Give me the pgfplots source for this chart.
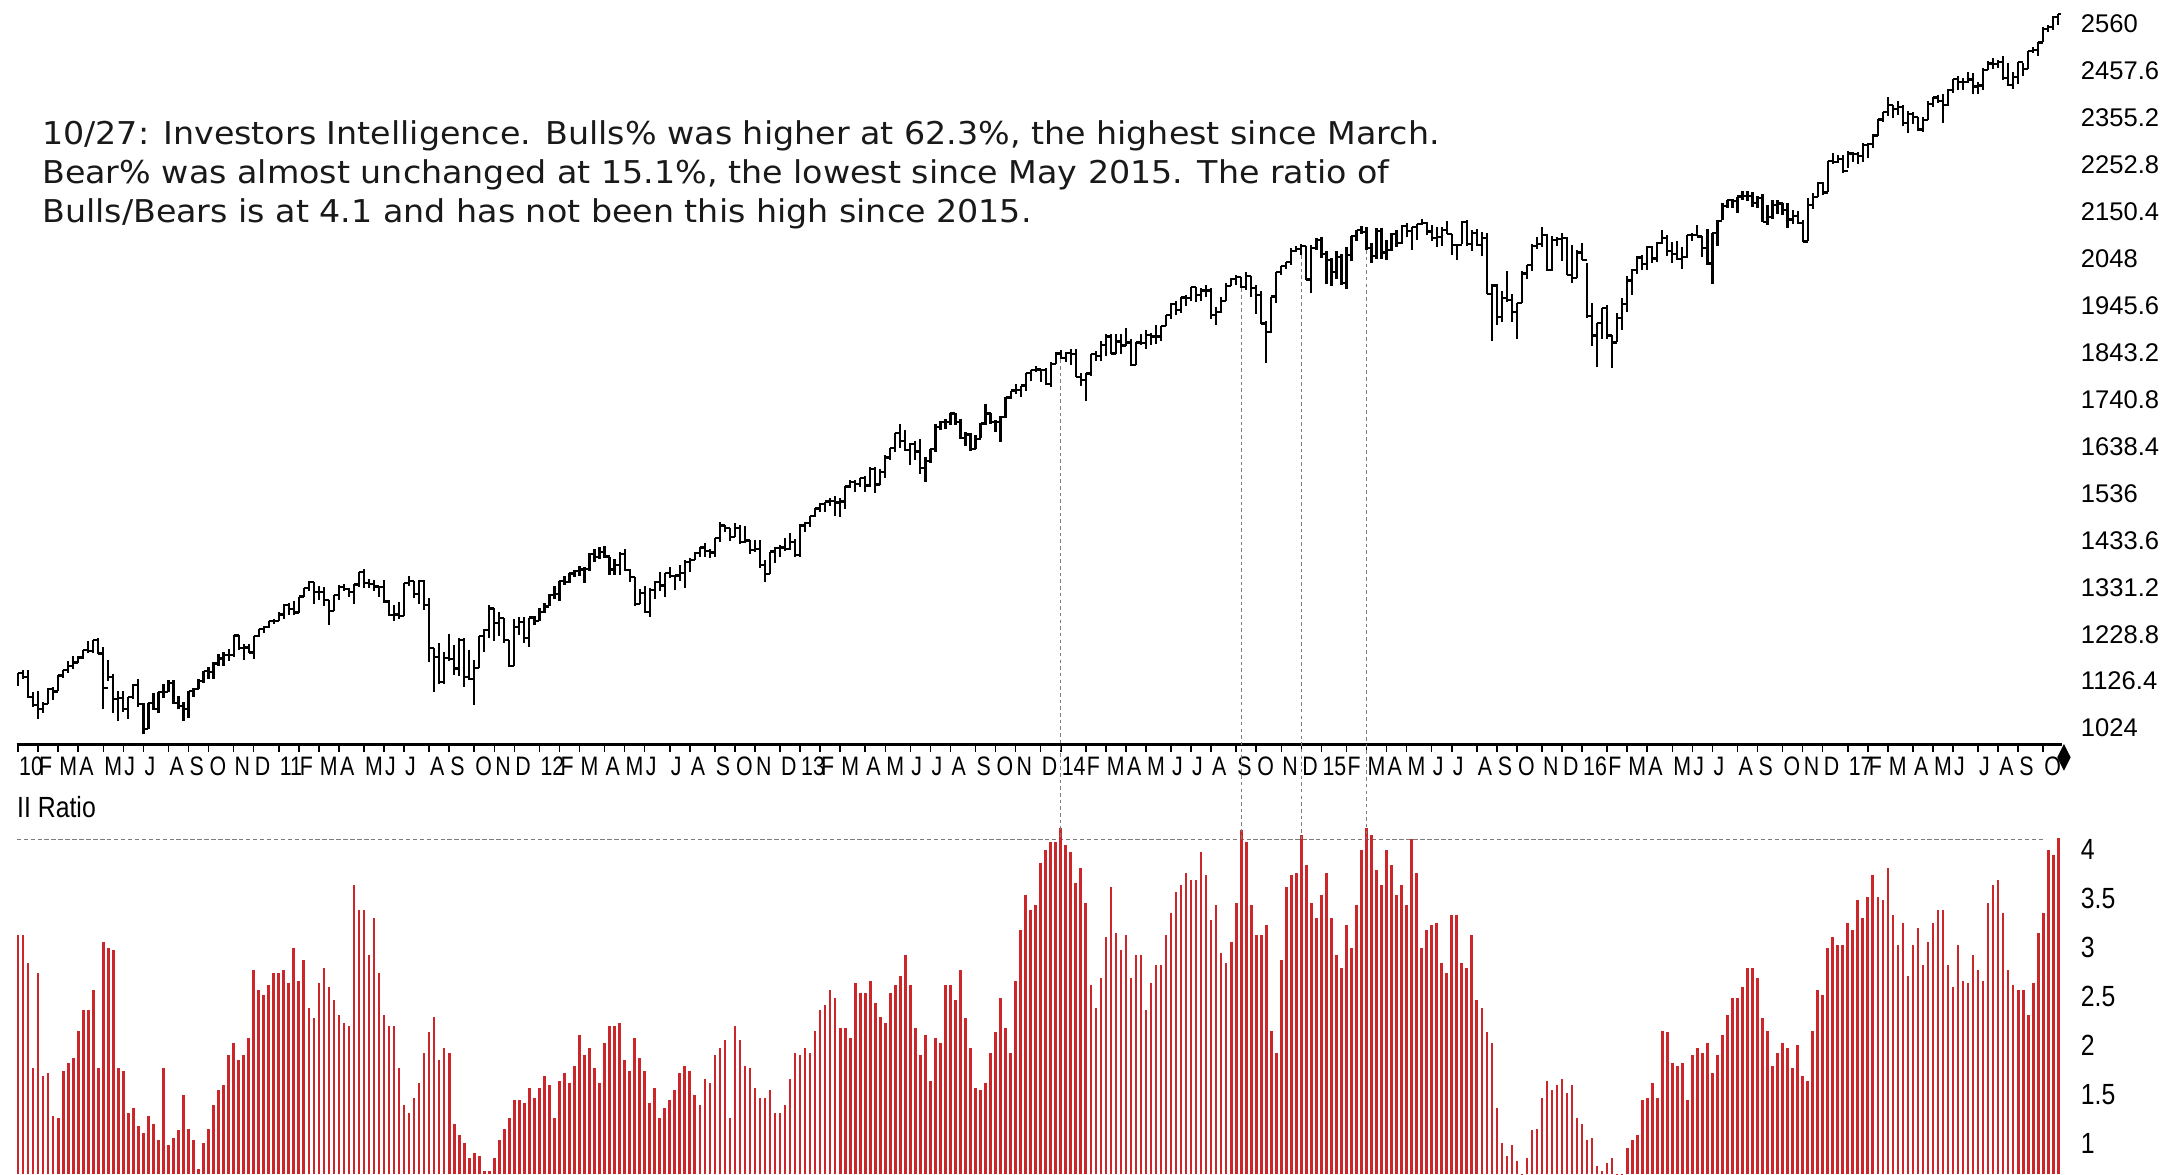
\documentclass[border=0pt]{standalone}
\usepackage{pgfplots}
\pgfplotsset{compat=1.18}
\usepackage{pgfplotstable}
\usepackage{fontspec}
\newfontfamily\annfont[FakeStretch=1.06]{DejaVu Sans}
\newfontfamily\tickfont{Liberation Sans}
\newfontfamily\narrowA[FakeStretch=0.85]{Liberation Sans}
\newfontfamily\narrowB[FakeStretch=0.8]{Liberation Sans}
\definecolor{iired}{RGB}{205,38,42}
\definecolor{dashgray}{RGB}{125,125,125}
\definecolor{anntext}{RGB}{25,25,25}

\pgfdeclareplotmark{cltick}{\pgfpathmoveto{\pgfpointorigin}\pgfpathlineto{\pgfpoint{0.95pt}{0pt}}\pgfusepathqstroke}
\pgfdeclareplotmark{optick}{\pgfpathmoveto{\pgfpointorigin}\pgfpathlineto{\pgfpoint{-0.95pt}{0pt}}\pgfusepathqstroke}

% weekly S&P 500: high, low, close; II bulls/bears ratio
\pgfplotstableread{
h l c r
1145 1116 1145 3.12
1150 1131 1136 3.12
1150 1090 1092 2.84
1103 1071 1074 1.77
1104 1045 1066 2.74
1080 1056 1076 1.69
1112 1076 1109 1.72
1113 1086 1104 1.28
1139 1105 1139 1.26
1150 1133 1150 1.74
1170 1144 1160 1.82
1181 1153 1167 1.87
1181 1165 1178 2.15
1195 1175 1194 2.36
1213 1188 1192 2.36
1217 1188 1217 2.56
1220 1186 1187 1.77
1200 1066 1111 3.05
1173 1126 1136 2.99
1141 1056 1088 2.97
1105 1040 1089 1.77
1105 1060 1065 1.74
1092 1043 1092 1.31
1120 1087 1118 1.36
1131 1071 1077 1.18
1079 1011 1023 1.10
1078 1023 1078 1.28
1100 1063 1065 1.20
1103 1056 1103 1.03
1120 1089 1102 1.77
1129 1102 1122 0.98
1130 1076 1079 1.05
1095 1066 1072 1.13
1081 1040 1065 1.49
1105 1047 1105 1.15
1112 1091 1110 1.03
1131 1110 1126 0.74
1149 1122 1149 1.00
1158 1131 1146 1.15
1168 1131 1165 1.39
1185 1159 1176 1.54
1189 1160 1183 1.59
1196 1171 1183 1.90
1227 1179 1226 2.02
1227 1194 1199 1.85
1207 1173 1200 1.90
1207 1187 1189 2.07
1225 1174 1225 2.77
1240 1223 1240 2.56
1247 1232 1244 2.51
1257 1242 1257 2.61
1262 1250 1258 2.74
1278 1257 1272 2.74
1294 1262 1293 2.77
1297 1271 1283 2.64
1302 1270 1276 2.99
1311 1276 1311 2.66
1330 1311 1329 2.87
1344 1322 1343 2.38
1343 1294 1320 2.28
1333 1304 1321 2.64
1331 1291 1304 2.79
1304 1249 1279 2.59
1315 1279 1314 2.46
1337 1304 1332 2.31
1339 1322 1328 2.23
1329 1309 1320 2.20
1338 1295 1337 3.64
1364 1331 1364 3.38
1371 1330 1340 3.38
1350 1330 1338 2.92
1346 1324 1333 3.30
1334 1311 1331 2.74
1346 1298 1300 2.31
1304 1268 1271 2.20
1293 1258 1272 2.20
1299 1262 1268 1.77
1341 1268 1340 1.39
1356 1333 1344 1.31
1344 1307 1316 1.46
1347 1295 1345 1.61
1346 1282 1292 1.92
1308 1168 1199 2.13
1199 1102 1179 2.29
1209 1120 1124 1.85
1190 1121 1177 1.97
1230 1170 1174 1.92
1205 1140 1154 1.20
1220 1137 1216 1.08
1220 1114 1136 1.00
1195 1130 1131 0.85
1172 1075 1155 0.90
1225 1155 1225 0.87
1240 1190 1238 0.72
1293 1221 1285 0.72
1285 1215 1253 0.85
1277 1226 1264 1.03
1265 1209 1216 1.15
1216 1158 1159 1.26
1261 1159 1244 1.44
1267 1228 1255 1.44
1266 1209 1220 1.41
1265 1202 1265 1.56
1269 1248 1258 1.46
1285 1258 1278 1.56
1296 1275 1289 1.69
1316 1290 1315 1.59
1333 1306 1316 1.26
1345 1301 1345 1.64
1355 1336 1343 1.72
1362 1340 1361 1.61
1368 1354 1366 1.79
1378 1355 1370 2.10
1375 1340 1371 1.90
1406 1366 1404 1.97
1414 1386 1397 1.77
1420 1392 1408 1.61
1422 1395 1398 2.02
1398 1357 1370 2.20
1393 1358 1379 2.20
1407 1358 1403 2.23
1415 1368 1369 1.85
1370 1343 1353 1.74
1354 1291 1295 2.07
1328 1294 1318 1.87
1335 1274 1278 1.74
1329 1266 1326 1.41
1344 1306 1343 1.56
1364 1324 1335 1.26
1362 1310 1362 1.36
1375 1352 1355 1.44
1357 1325 1357 1.54
1380 1345 1363 1.72
1390 1329 1386 1.79
1395 1365 1391 1.74
1407 1391 1406 1.49
1419 1397 1418 1.39
1427 1398 1411 1.66
1415 1396 1407 1.61
1438 1397 1438 1.90
1474 1429 1466 1.97
1467 1451 1460 2.05
1460 1431 1441 1.26
1471 1440 1461 2.20
1466 1425 1429 2.05
1464 1428 1433 1.79
1434 1403 1412 1.77
1434 1407 1414 1.56
1434 1374 1380 1.46
1391 1343 1360 1.46
1409 1360 1409 1.54
1419 1385 1416 1.31
1423 1398 1418 1.31
1439 1410 1414 1.39
1449 1413 1430 1.66
1436 1398 1402 1.92
1468 1398 1466 1.90
1473 1451 1472 1.97
1486 1463 1486 1.92
1503 1485 1503 2.15
1514 1496 1513 2.36
1518 1495 1518 2.41
1525 1509 1520 2.56
1530 1486 1516 2.48
1525 1485 1518 2.18
1552 1501 1551 2.18
1564 1547 1561 2.07
1564 1539 1557 2.64
1570 1550 1569 2.53
1574 1539 1553 2.53
1594 1550 1589 2.66
1593 1537 1555 2.43
1590 1554 1582 2.29
1619 1570 1614 2.23
1635 1609 1634 2.53
1668 1625 1667 2.61
1688 1635 1650 2.71
1674 1630 1631 2.92
1646 1598 1643 2.61
1649 1608 1627 2.18
1654 1577 1592 1.90
1615 1560 1606 2.10
1632 1601 1632 1.64
1687 1626 1680 2.07
1693 1674 1692 2.02
1698 1676 1692 2.61
1710 1684 1710 2.61
1710 1684 1691 2.46
1697 1654 1656 2.77
1669 1640 1664 2.28
1668 1628 1633 1.97
1663 1633 1655 1.56
1689 1656 1688 1.54
1730 1684 1710 1.61
1711 1687 1692 1.92
1695 1670 1691 2.13
1704 1647 1703 2.48
1745 1701 1745 2.18
1760 1741 1760 1.92
1775 1752 1762 2.66
1771 1746 1771 3.18
1799 1760 1798 3.53
1805 1780 1805 3.38
1814 1800 1806 3.43
1808 1779 1805 3.86
1809 1772 1775 3.99
1823 1768 1818 4.07
1844 1818 1841 4.07
1849 1828 1831 4.22
1843 1823 1842 4.04
1851 1815 1839 3.97
1850 1790 1790 3.66
1798 1770 1783 3.81
1798 1738 1797 3.45
1840 1792 1839 2.61
1847 1825 1836 2.38
1867 1825 1859 2.69
1884 1835 1878 3.10
1883 1839 1841 3.61
1884 1840 1867 3.15
1884 1840 1858 2.97
1897 1858 1865 3.12
1873 1814 1816 2.69
1866 1815 1865 2.92
1884 1859 1863 2.92
1891 1851 1881 2.36
1886 1859 1878 2.64
1903 1862 1878 2.82
1901 1868 1901 2.82
1924 1901 1924 3.12
1950 1915 1949 3.35
1956 1925 1936 3.56
1963 1930 1963 3.64
1968 1945 1961 3.76
1985 1955 1985 3.69
1986 1952 1968 3.69
1983 1955 1978 3.97
1991 1965 1978 3.74
1984 1916 1925 3.28
1943 1904 1932 3.43
1964 1928 1955 2.94
1994 1956 1988 2.84
2006 1988 2003 3.05
2012 1990 2008 3.45
2008 1983 1986 4.20
2019 1979 2010 4.07
2010 1965 1983 3.43
1990 1926 1968 3.12
1978 1906 1906 3.12
1912 1821 1887 3.23
1965 1886 1965 2.15
2018 1951 2018 1.92
2032 2011 2032 2.87
2041 2025 2040 3.61
2071 2034 2064 3.74
2076 2062 2068 3.76
2079 2055 2075 4.15
2075 2002 2002 3.84
2077 1973 2071 3.45
2093 2067 2089 3.30
2094 2049 2058 3.53
2064 1992 2045 3.76
2050 1988 2019 3.30
2065 2004 2052 2.92
2058 1990 1995 2.79
2072 1981 2055 3.23
2097 2042 2097 2.99
2110 2085 2110 3.43
2119 2101 2105 3.99
2117 2066 2071 4.22
2082 2039 2053 4.15
2114 2046 2108 3.79
2115 2046 2061 3.64
2089 2045 2067 3.99
2103 2064 2102 3.84
2111 2073 2081 3.53
2120 2079 2118 3.64
2126 2094 2108 3.43
2117 2067 2116 4.11
2123 2089 2123 3.76
2135 2121 2126 2.99
2127 2099 2107 3.18
2121 2086 2093 3.23
2116 2072 2094 3.25
2116 2076 2110 2.84
2130 2101 2101 2.74
2102 2056 2077 3.33
2078 2044 2077 3.33
2130 2080 2127 2.84
2132 2076 2080 2.79
2110 2064 2104 3.12
2113 2075 2078 2.46
2105 2053 2092 2.38
2103 1971 1971 2.13
1993 1867 1989 2.02
1993 1903 1921 1.36
1976 1910 1961 1.00
2021 1953 1958 0.87
1970 1909 1931 0.98
1951 1872 1951 0.82
2021 1951 2015 0.60
2034 2003 2033 0.85
2080 2021 2075 1.13
2094 2069 2079 1.15
2116 2073 2099 1.46
2101 2022 2023 1.64
2097 2020 2089 1.54
2095 2076 2090 1.59
2104 2043 2092 1.66
2094 2012 2012 1.51
2077 1994 2006 1.59
2067 2005 2061 1.26
2082 2044 2044 1.20
2038 1918 1922 1.03
1951 1858 1880 1.05
1907 1812 1907 0.77
1940 1872 1940 0.72
1947 1872 1880 0.80
1881 1810 1865 0.85
1930 1865 1918 0.60
1962 1891 1948 0.60
2009 1931 2000 0.95
2024 1969 2022 1.03
2053 2015 2050 1.08
2056 2023 2036 1.44
2075 2022 2073 1.46
2075 2039 2048 1.61
2084 2041 2081 1.46
2111 2079 2092 2.15
2099 2053 2065 2.13
2084 2039 2057 1.82
2085 2045 2047 1.79
2072 2025 2052 1.82
2100 2049 2099 1.44
2104 2087 2099 1.90
2120 2096 2096 1.97
2096 2051 2071 1.92
2113 2033 2037 2.02
2104 1992 2103 1.72
2131 2075 2130 1.90
2169 2131 2162 2.10
2176 2159 2175 2.31
2178 2159 2174 2.48
2183 2148 2183 2.48
2194 2176 2184 2.59
2194 2173 2184 2.79
2193 2160 2169 2.79
2185 2157 2180 2.69
2188 2128 2128 2.28
2164 2120 2139 2.15
2175 2133 2165 1.79
2175 2145 2168 1.92
2169 2142 2154 2.02
2169 2115 2133 1.97
2154 2124 2141 1.77
2152 2125 2126 2.00
2132 2084 2085 1.69
2180 2085 2164 1.64
2190 2156 2182 2.15
2214 2183 2213 2.56
2214 2187 2192 2.51
2260 2192 2260 2.99
2278 2254 2258 3.10
2273 2257 2264 3.02
2273 2234 2239 3.02
2283 2246 2277 3.25
2280 2258 2275 3.18
2279 2255 2271 3.48
2300 2258 2295 3.30
2299 2267 2297 3.51
2319 2289 2316 3.74
2352 2316 2351 3.51
2368 2345 2367 3.48
2401 2358 2383 3.81
2383 2355 2373 3.33
2391 2360 2378 3.02
2382 2336 2344 3.25
2370 2322 2363 2.71
2367 2342 2356 3.02
2356 2328 2329 3.20
2356 2323 2349 2.82
2392 2349 2384 3.05
2400 2378 2399 3.25
2404 2387 2391 3.38
2406 2344 2382 3.38
2418 2380 2416 2.82
2440 2408 2439 2.59
2446 2415 2432 3.02
2441 2416 2433 2.66
2454 2430 2438 2.64
2453 2406 2423 2.92
2432 2407 2425 2.77
2464 2416 2459 2.66
2478 2458 2473 3.45
2484 2460 2472 3.64
2480 2464 2477 3.69
2490 2437 2441 3.35
2474 2425 2426 2.77
2454 2417 2443 2.61
2477 2428 2477 2.56
2475 2446 2461 2.56
2500 2462 2500 2.31
2508 2496 2502 2.64
2520 2489 2519 3.15
2553 2520 2549 3.35
2557 2542 2553 3.99
2576 2547 2575 3.94
2582 2557 2581 4.12
}\spx

\begin{document}
\begin{tikzpicture}
\useasboundingbox (0,0) rectangle (784pt,422.5pt);
\clip (0,0) rectangle (784pt,422.5pt);

% ---------- price panel ----------
\begin{axis}[
  at={(6pt,154.5pt)}, anchor=south west,
  scale only axis, width=736pt, height=268pt,
  xmin=-0.28, xmax=407.8, ymin=987.6, ymax=2611.5,
  axis x line*=bottom, axis y line*=right,
  x axis line style={-, line width=1pt},
  y axis line style={draw=none},
  xtick={0,4,8,12,17,21,25,30,34,38,43,47,52,56,60,64,69,73,77,82,86,91,95,99,104,108,112,117,121,125,130,134,139,143,147,152,156,160,164,169,173,178,182,186,191,195,199,204,208,213,217,221,225,230,234,238,243,247,252,256,260,265,269,273,277,282,286,291,295,299,304,308,312,317,321,325,330,334,338,343,347,352,356,360,365,369,373,378,382,386,391,395,399,404},
  xticklabels={10,F,M,A,M,J,J,A,S,O,N,D,11,F,M,A,M,J,J,A,S,O,N,D,12,F,M,A,M,J,J,A,S,O,N,D,13,F,M,A,M,J,J,A,S,O,N,D,14,F,M,A,M,J,J,A,S,O,N,D,15,F,M,A,M,J,J,A,S,O,N,D,16,F,M,A,M,J,J,A,S,O,N,D,17,F,M,A,M,J,J,A,S,O},
  xtick align=outside, ytick align=inside, major tick length=2.6pt,
  xtick style={black, line width=0.55pt},
  xticklabel style={anchor=north west, inner sep=0pt, xshift=0.2pt, yshift=-1.5pt, font=\narrowB\fontsize{9.6}{9.6}\selectfont},
  ytick={1024,1126.4,1228.8,1331.2,1433.6,1536,1638.4,1740.8,1843.2,1945.6,2048,2150.4,2252.8,2355.2,2457.6,2560},
  yticklabels={1024,1126.4,1228.8,1331.2,1433.6,1536,1638.4,1740.8,1843.2,1945.6,2048,2150.4,2252.8,2355.2,2457.6,2560},
  ytick style={draw=none},
  yticklabel style={anchor=west, inner sep=0pt, xshift=6.5pt, font=\tickfont\fontsize{9.2}{9.2}\selectfont},
]
\addplot[black, only marks, mark=cltick, mark options={line width=0.8pt},
  error bars/.cd, y dir=both, y explicit, error mark=none,
  error bar style={line width=0.8pt, black}]
  table[x expr=\coordindex, y=c, y error plus expr=\thisrow{h}-\thisrow{c}, y error minus expr=\thisrow{c}-\thisrow{l}]{\spx};
\addplot[black, only marks, mark=optick, mark options={line width=0.8pt}, skip coords between index={407}{408}]
  table[x expr=\coordindex+1, y=c]{\spx};
\coordinate (t1) at (axis cs:208,1828);
\coordinate (t2) at (axis cs:244,1983);
\coordinate (t3) at (axis cs:256,2055);
\coordinate (t4) at (axis cs:269,2066);
\end{axis}

% ---------- II ratio panel ----------
\begin{axis}[
  at={(6pt,0pt)}, anchor=south west,
  scale only axis, width=736pt, height=127.5pt,
  xmin=-0.28, xmax=407.8, ymin=0.683, ymax=4.30,
  axis x line=none, axis y line*=right,
  y axis line style={draw=none},
  ytick={1,1.5,2,2.5,3,3.5,4}, yticklabels={1,1.5,2,2.5,3,3.5,4},
  ytick style={draw=none}, ytick align=inside,
  yticklabel style={anchor=west, inner sep=0pt, xshift=6.5pt, font=\narrowA\fontsize{10.5}{10.5}\selectfont},
]
\draw[dashgray, dash pattern=on 1.6pt off 0.9pt, line width=0.5pt] (axis cs:-0.28,4.1) -- (axis cs:404,4.1);
\addplot[ycomb, draw=iired, line width=0.95pt, mark=none] table[x expr=\coordindex, y=r]{\spx};
\coordinate (b1) at (axis cs:208,4.1);
\coordinate (b2) at (axis cs:244,4.1);
\coordinate (b3) at (axis cs:256,4.1);
\coordinate (b4) at (axis cs:269,4.1);
\end{axis}

\foreach \i in {1,2,3,4}{
  \draw[dashgray, dash pattern=on 1.3pt off 1.1pt, line width=0.45pt] (t\i) -- (b\i);
}

% current-bar marker at the end of the date axis
\fill[black] (740.2pt,150pt) -- (742.6pt,154.8pt) -- (745pt,150pt) -- (742.6pt,145.2pt) -- cycle;

\node[anchor=west, inner sep=0pt, font=\narrowA\fontsize{10.5}{10.5}\selectfont] at (6pt,132pt) {II Ratio};

\begin{scope}[every node/.style={anchor=base west, inner sep=0pt, text=anntext, font=\annfont\fontsize{11.3}{13}\selectfont}]
\node at (15pt,370.5pt) {10/27: Investors Intelligence. Bulls\% was higher at 62.3\%, the highest since March.};
\node at (15pt,356.5pt) {Bear\% was almost unchanged at 15.1\%, the lowest since May 2015. The ratio of};
\node at (15pt,342.5pt) {Bulls/Bears is at 4.1 and has not been this high since 2015.};
\end{scope}
\end{tikzpicture}
\end{document}
